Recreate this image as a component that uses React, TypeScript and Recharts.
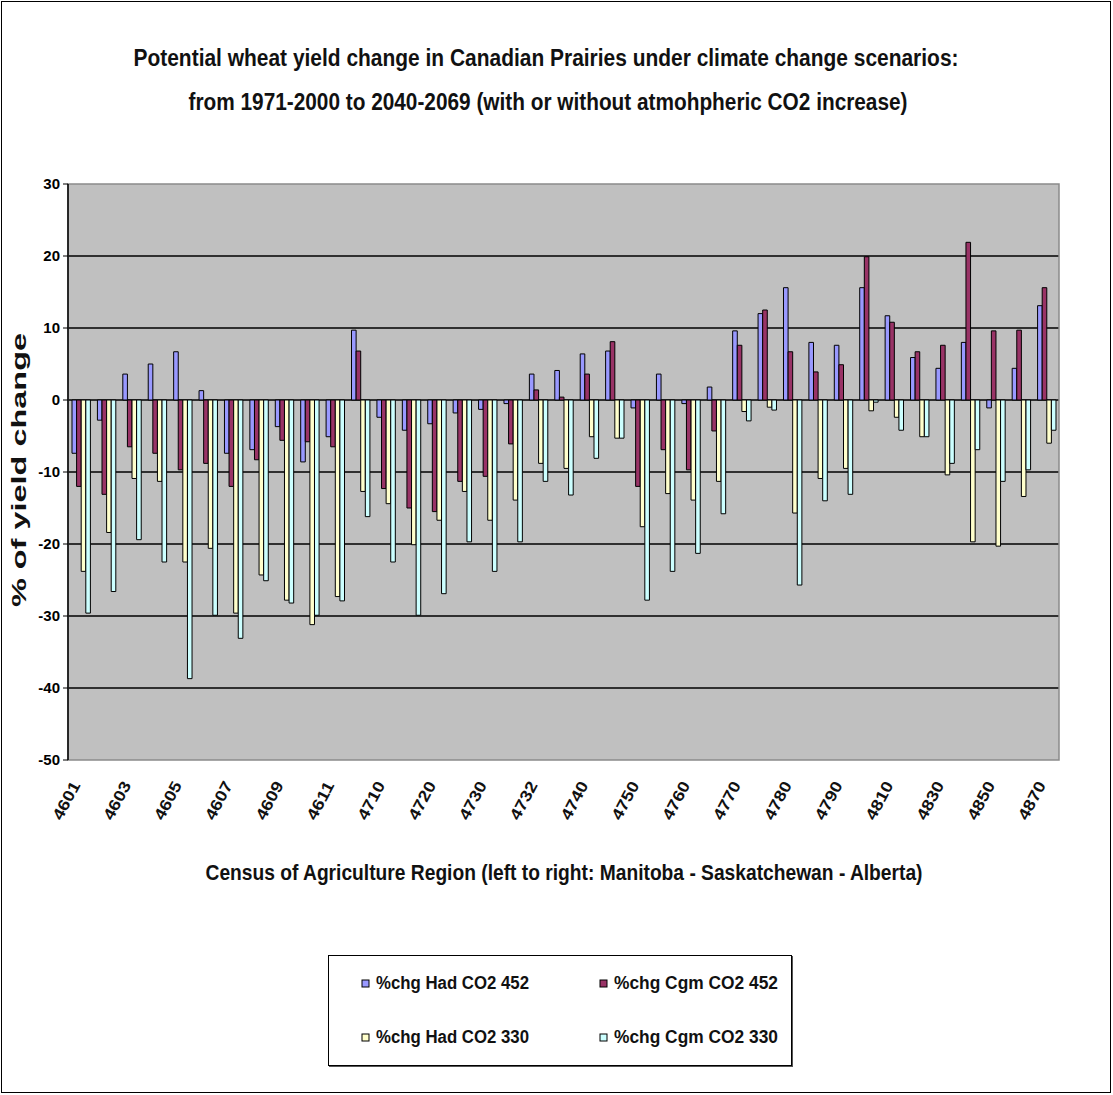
import React from "react";
import { BarChart, Bar, XAxis, YAxis, CartesianGrid, Legend, ReferenceArea } from "recharts";

// Census Agricultural Regions, Manitoba -> Saskatchewan -> Alberta
const categories = [
  "4601", "4602", "4603", "4604", "4605", "4606", "4607", "4608", "4609", "4610", "4611", "4612",
  "4710", "4711", "4720", "4721", "4730", "4731", "4732", "4733", "4740", "4741",
  "4750", "4751", "4760", "4761", "4770", "4771", "4780", "4781", "4790", "4791",
  "4810", "4820", "4830", "4840", "4850", "4860", "4870",
];

// % yield change
const hadCo2452 = [
  -7.4, -2.8, 3.6, 5.0, 6.7, 1.3, -7.4, -6.9, -3.7, -8.6, -5.1, 9.7,
  -2.4, -4.2, -3.3, -1.8, -1.3, -0.5, 3.6, 4.1, 6.4, 6.8,
  -1.1, 3.6, -0.5, 1.8, 9.6, 12.0, 15.6, 8.0, 7.6, 15.6,
  11.7, 5.9, 4.4, 8.0, -1.1, 4.4, 13.1,
];
const cgmCo2452 = [
  -12.0, -13.1, -6.5, -7.4, -9.7, -8.8, -12.0, -8.3, -5.6, -5.8, -6.5, 6.8,
  -12.3, -15.0, -15.5, -11.3, -10.6, -6.1, 1.4, 0.4, 3.6, 8.1,
  -12.0, -6.9, -9.7, -4.3, 7.6, 12.5, 6.7, 3.9, 4.9, 19.9,
  10.8, 6.7, 7.6, 21.9, 9.6, 9.7, 15.6,
];
const hadCo2330 = [
  -23.8, -18.4, -10.9, -11.3, -22.5, -20.6, -29.6, -24.3, -27.8, -31.2, -27.3, -12.7,
  -14.4, -20.1, -16.7, -12.7, -16.7, -13.9, -8.8, -9.5, -5.1, -5.3,
  -17.6, -13.0, -13.9, -11.3, -1.6, -1.0, -15.7, -10.9, -9.5, -1.5,
  -2.4, -5.1, -10.4, -19.7, -20.3, -13.4, -6.0,
];
const cgmCo2330 = [
  -29.6, -26.6, -19.4, -22.5, -38.7, -29.9, -33.1, -25.1, -28.2, -29.9, -27.9, -16.2,
  -22.5, -29.9, -26.9, -19.7, -23.8, -19.7, -11.3, -13.2, -8.1, -5.3,
  -27.8, -23.8, -21.3, -15.8, -2.9, -1.4, -25.7, -14.0, -13.1, -0.3,
  -4.2, -5.1, -8.8, -6.9, -11.3, -9.7, -4.2,
];

const seriesNames = ["%chg Had CO2 452", "%chg Cgm CO2 452", "%chg Had CO2 330", "%chg Cgm CO2 330"];
const seriesColors = ["#9999FF", "#993366", "#FFFFCC", "#CCFFFF"];
const yTicks = [-50, -40, -30, -20, -10, 0, 10, 20, 30];
const gridValues = [-40, -30, -20, -10, 0, 10, 20];

const data = categories.map((car, i) => ({
  car,
  had452: hadCo2452[i],
  cgm452: cgmCo2452[i],
  had330: hadCo2330[i],
  cgm330: cgmCo2330[i],
}));

const FONT = "'Liberation Sans', Arial, sans-serif";

function CarTick({ x, y, payload }: any) {
  return (
    <g transform={`translate(${x},${y + 23})`}>
      <text
        transform="rotate(-62)"
        textAnchor="end"
        fontFamily={FONT}
        fontWeight="bold"
        fontSize={16}
        fill="#111"
        textLength={41}
        lengthAdjust="spacingAndGlyphs"
      >
        {payload.value}
      </text>
    </g>
  );
}

function LegendBox({ payload }: any) {
  // keep the series order (row 1: CO2 452, row 2: CO2 330)
  const items = seriesNames.map((name, i) => {
    const p = (payload || []).find((e: any) => e.value === name);
    return { value: name, color: (p && p.color) || seriesColors[i] };
  });
  return (
    <div
      style={{
        width: 464,
        height: 111,
        border: "1.5px solid #000",
        boxShadow: "1px 1px 0 #555",
        background: "#fff",
        boxSizing: "border-box",
      }}
    >
      <svg width={461} height={108} style={{ display: "block" }}>
        {items.map((p, i) => {
          const col = i % 2;
          const row = Math.floor(i / 2);
          const sx = col === 0 ? 33 : 271;
          const base = row === 0 ? 33 : 87;
          return (
            <g key={p.value}>
              <rect x={sx} y={base - 9} width={7} height={7} fill={p.color} stroke="#000" strokeWidth={1} />
              <text
                x={sx + 14}
                y={base}
                fontFamily={FONT}
                fontWeight="bold"
                fontSize={18}
                fill="#111"
                textLength={col === 0 ? 153 : 164}
                lengthAdjust="spacingAndGlyphs"
              >
                {p.value}
              </text>
            </g>
          );
        })}
      </svg>
    </div>
  );
}

export default function App() {
  return (
    <div style={{ position: "absolute", left: 0, top: 0, width: 1113, height: 1095, background: "#fff" }}>
      <div
        style={{
          position: "absolute",
          left: 1,
          top: 1,
          width: 1110,
          height: 1092,
          border: "1.5px solid #000",
          boxSizing: "border-box",
        }}
      />
      <div style={{ position: "absolute", left: 0, top: 0 }}>
        <BarChart
          width={1113}
          height={860}
          data={data}
          margin={{ top: 184, right: 54, left: 8, bottom: 50 }}
          barGap={0}
          barSize={4.6}
        >
          <CartesianGrid
            fill="#C0C0C0"
            vertical={false}
            horizontalValues={gridValues}
            stroke="#000"
            strokeWidth={1.6}
          />
          <ReferenceArea y1={-50} y2={30} fill="none" fillOpacity={0} stroke="#8a8a8a" strokeWidth={1.5} />
          <XAxis
            dataKey="car"
            interval={1}
            axisLine={false}
            tickLine={false}
            tickSize={0}
            tickMargin={2}
            height={50}
            tick={<CarTick />}
          />
          <YAxis
            domain={[-50, 30]}
            ticks={yTicks}
            width={60}
            tickSize={5}
            tickMargin={3}
            axisLine={{ stroke: "#000", strokeWidth: 1.5 }}
            tickLine={{ stroke: "#000" }}
            tick={{ fontSize: 15, fontWeight: "bold", fill: "#000", fontFamily: FONT }}
          />
          <Legend
            layout="vertical"
            align="center"
            verticalAlign="middle"
            wrapperStyle={{ left: 328, top: 955, width: 464, height: 111 }}
            content={<LegendBox />}
          />
          <Bar dataKey="had452" name={seriesNames[0]} fill={seriesColors[0]} stroke="#000" strokeWidth={1} isAnimationActive={false} />
          <Bar dataKey="cgm452" name={seriesNames[1]} fill={seriesColors[1]} stroke="#000" strokeWidth={1} isAnimationActive={false} />
          <Bar dataKey="had330" name={seriesNames[2]} fill={seriesColors[2]} stroke="#000" strokeWidth={1} isAnimationActive={false} />
          <Bar dataKey="cgm330" name={seriesNames[3]} fill={seriesColors[3]} stroke="#000" strokeWidth={1} isAnimationActive={false} />
        </BarChart>
      </div>
      <svg
        width={1113}
        height={1095}
        style={{ position: "absolute", left: 0, top: 0, pointerEvents: "none" }}
      >
        <text x={546} y={66} textAnchor="middle" fontFamily={FONT} fontWeight="bold" fontSize={23} fill="#111" textLength={825} lengthAdjust="spacingAndGlyphs">
          Potential wheat yield change in Canadian Prairies under climate change scenarios:
        </text>
        <text x={548} y={110} textAnchor="middle" fontFamily={FONT} fontWeight="bold" fontSize={23} fill="#111" textLength={719} lengthAdjust="spacingAndGlyphs">
          from 1971-2000 to 2040-2069 (with or without atmohpheric CO2 increase)
        </text>
        <text x={564} y={880} textAnchor="middle" fontFamily={FONT} fontWeight="bold" fontSize={22} fill="#111" textLength={717} lengthAdjust="spacingAndGlyphs">
          Census of Agriculture Region (left to right: Manitoba - Saskatchewan - Alberta)
        </text>
        <text
          x={26}
          y={470}
          transform="rotate(-90, 26, 470)"
          textAnchor="middle"
          fontFamily={FONT}
          fontWeight="bold"
          fontSize={21}
          fill="#111"
          textLength={274}
          lengthAdjust="spacingAndGlyphs"
        >
          % of yield change
        </text>
      </svg>
    </div>
  );
}
